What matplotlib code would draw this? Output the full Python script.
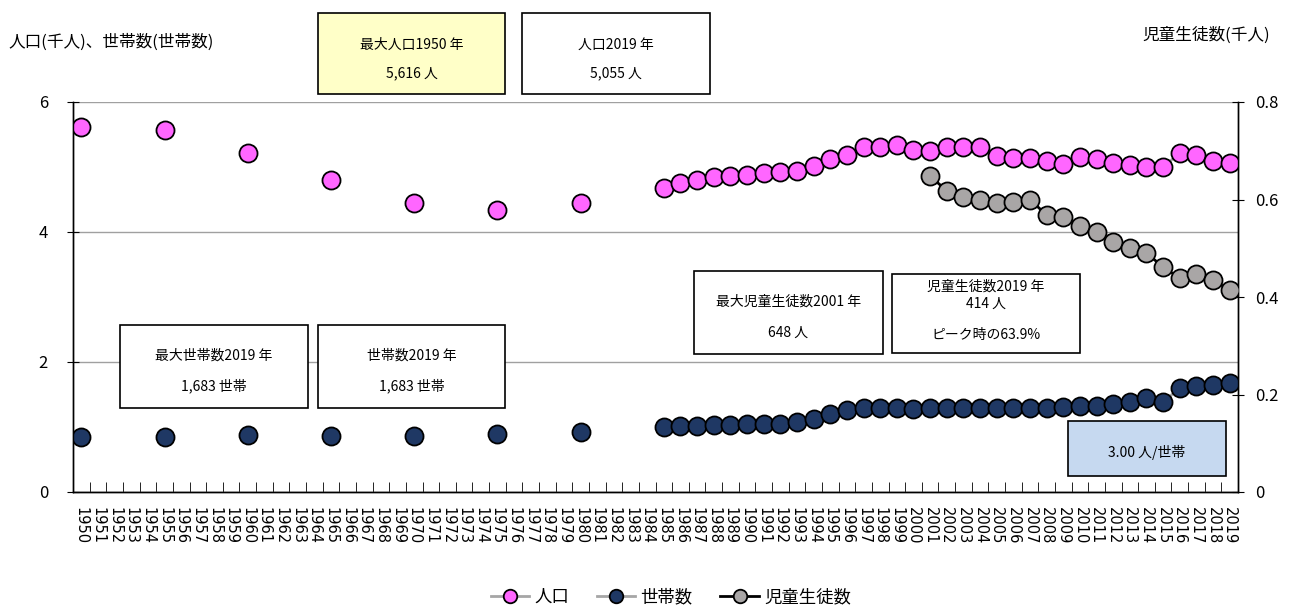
import numpy as np
import pandas as pd
import matplotlib
matplotlib.use('Agg')
import matplotlib.pyplot as plt
from matplotlib.patches import Rectangle

plt.rcParams['font.family'] = ['Noto Sans CJK JP', 'DejaVu Sans']

# data (thousands)
years = list(range(1950, 2020))

early_years = [1950, 1955, 1960, 1965, 1970, 1975, 1980]
pop_early = [5.616, 5.57, 5.215, 4.80, 4.446, 4.34, 4.45]
hh_early = [0.846, 0.846, 0.877, 0.862, 0.855, 0.892, 0.923]

annual_years = list(range(1985, 2020))
pop_annual = [4.672, 4.749, 4.80, 4.841, 4.862, 4.877, 4.913, 4.918, 4.938, 5.015,
              5.118, 5.185, 5.303, 5.313, 5.338, 5.26, 5.251, 5.313, 5.303, 5.313,
              5.169, 5.133, 5.133, 5.092, 5.046, 5.159, 5.118, 5.056, 5.03, 5.005,
              5.005, 5.21, 5.185, 5.097, 5.055]
hh_annual = [1.005, 1.015, 1.02, 1.03, 1.03, 1.04, 1.04, 1.05, 1.07, 1.118,
             1.195, 1.256, 1.297, 1.297, 1.287, 1.272, 1.287, 1.297, 1.297, 1.297,
             1.297, 1.297, 1.30, 1.30, 1.308, 1.318, 1.328, 1.349, 1.39, 1.441,
             1.38, 1.605, 1.636, 1.646, 1.683]

child_years = list(range(2001, 2020))
child = [0.648, 0.618, 0.606, 0.599, 0.592, 0.5955, 0.600, 0.568, 0.5635, 0.5456,
         0.534, 0.5135, 0.4998, 0.4896, 0.462, 0.438, 0.447, 0.435, 0.414]

pop = pd.Series(pop_early + pop_annual, index=early_years + annual_years).reindex(years)
hh = pd.Series(hh_early + hh_annual, index=early_years + annual_years).reindex(years)
ch = pd.Series(child, index=child_years).reindex(years)

W, H = 1290, 610
fig = plt.figure(figsize=(W / 100, H / 100), dpi=100)
ax = fig.add_axes([73 / W, 1 - 492 / H, (1238 - 73) / W, (492 - 102) / H])
ax2 = ax.twinx()

x = np.arange(len(years))
ms = 13
l1, = ax.plot(x, pop.values, color='#A6A6A6', lw=2, marker='o', ms=ms,
              mfc='#FF66FF', mec='black', mew=1.3, label='人口', zorder=3)
l2, = ax.plot(x, hh.values, color='#A6A6A6', lw=2, marker='o', ms=ms,
              mfc='#1F3864', mec='black', mew=1.3, label='世帯数', zorder=3)
l3, = ax2.plot(x, ch.values, color='black', lw=2, marker='o', ms=ms,
               mfc='#A9A6A6', mec='black', mew=1.3, label='児童生徒数', zorder=3)

ax.set_xlim(-0.5, len(years) - 0.5)
ax.set_ylim(0, 6)
ax2.set_ylim(0, 0.8)
ax.set_yticks([0, 2, 4, 6])
ax2.set_yticks([0, 0.2, 0.4, 0.6, 0.8])
ax2.set_yticklabels(['0', '0.2', '0.4', '0.6', '0.8'])
ax.grid(axis='y', color='#A0A0A0', lw=1)
ax.set_axisbelow(True)

ax.set_xticks(x)
ax.set_xticklabels([str(y) for y in years], rotation=270, fontsize=10.5,
                   family=['DejaVu Sans'])
ax.set_xticks(np.arange(-0.5, len(years)), minor=True)
ax.tick_params(axis='x', which='major', length=0, pad=11)
ax.tick_params(axis='x', which='minor', length=7, direction='in', color='black')
ax.tick_params(axis='y', direction='inout', length=8, labelsize=12, pad=14)
ax2.tick_params(axis='y', direction='inout', length=8, labelsize=12, pad=8)

for a in (ax, ax2):
    a.spines['top'].set_visible(False)
    for s in ('left', 'right', 'bottom'):
        a.spines[s].set_color('black')
        a.spines[s].set_linewidth(1)

fig.text(8 / W, 1 - 42 / H, '人口(千人)、世帯数(世帯数)', fontsize=12, va='center', ha='left')
fig.text(1270 / W, 1 - 35 / H, '児童生徒数(千人)', fontsize=12, va='center', ha='right')


def box(x0, y0, x1, y1, lines, fc='white'):
    fig.patches.append(Rectangle((x0 / W, 1 - y1 / H), (x1 - x0) / W, (y1 - y0) / H,
                                 transform=fig.transFigure, fc=fc, ec='black', lw=1.2,
                                 zorder=5))
    for txt, ty in lines:
        fig.text((x0 + x1) / 2 / W, 1 - ty / H, txt, fontsize=10, ha='center',
                 va='center', zorder=6)


box(318, 13, 505, 94, [('最大人口1950 年', 45), ('5,616 人', 73)], fc='#FFFFC8')
box(522, 13, 710, 94, [('人口2019 年', 45), ('5,055 人', 73)])
box(120, 325, 308, 408, [('最大世帯数2019 年', 356), ('1,683 世帯', 386)])
box(318, 325, 505, 408, [('世帯数2019 年', 356), ('1,683 世帯', 386)])
box(694, 271, 883, 354, [('最大児童生徒数2001 年', 302), ('648 人', 333)])
box(892, 274, 1080, 353, [('児童生徒数2019 年', 287), ('414 人', 304), ('ピーク時の63.9%', 335)])
box(1068, 421, 1226, 476, [('3.00 人/世帯', 452)], fc='#C6D9F0')

fig.legend(handles=[l1, l2, l3], loc='center', bbox_to_anchor=(671 / W, 1 - 597 / H),
           ncol=3, frameon=False, fontsize=12.5, handlelength=2.2, columnspacing=1.6,
           handletextpad=0.3, markerscale=0.75)

fig.savefig('out.png', dpi=100)
